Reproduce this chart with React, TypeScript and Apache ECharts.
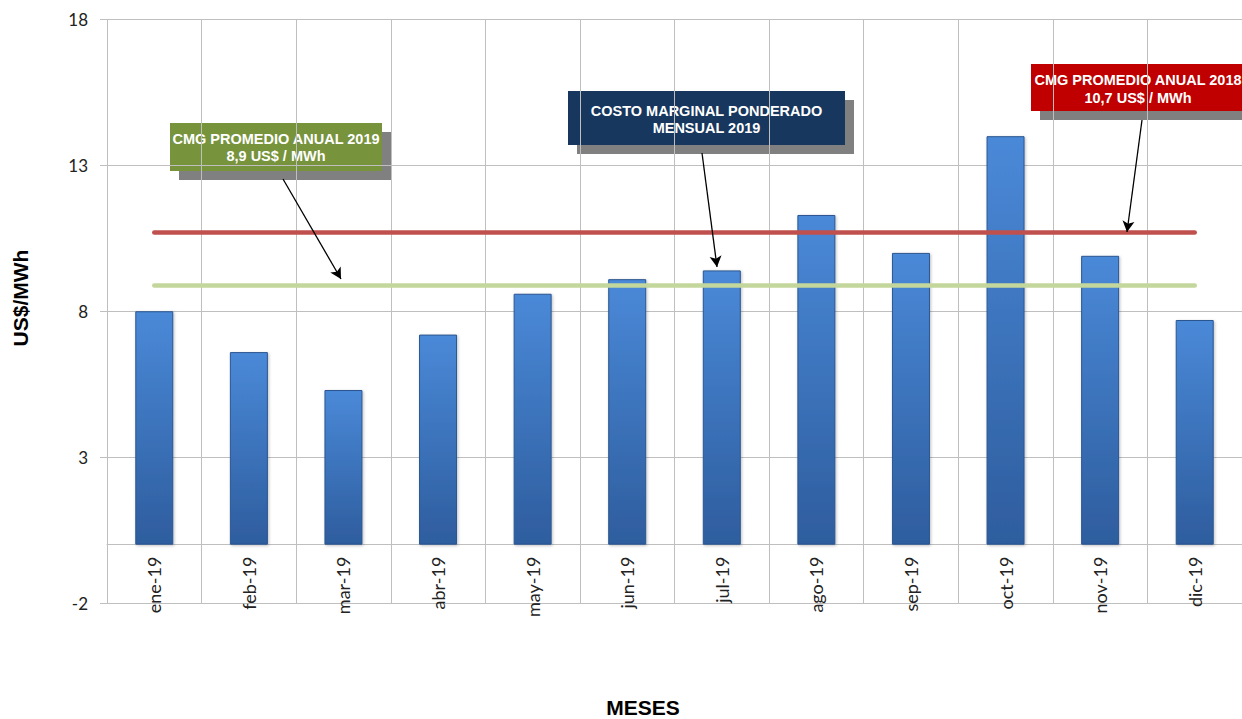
import React, { useEffect, useRef } from "react";
import * as echarts from "echarts";

const months = ["ene-19", "feb-19", "mar-19", "abr-19", "may-19", "jun-19", "jul-19", "ago-19", "sep-19", "oct-19", "nov-19", "dic-19"];
const costs = [8.0, 6.6, 5.3, 7.2, 8.6, 9.1, 9.4, 11.3, 10.0, 14.0, 9.9, 7.7];
const avg2018 = 10.7;
const avg2019 = 8.9;
const yTicks = [-2, 3, 8, 13, 18];

const boxFont = "bold 14.5px 'Liberation Sans', Arial, sans-serif";

function box(x: number, y: number, w: number, h: number, fill: string, lines: string[], lineYs: number[]) {
  const children: any[] = [
    { type: "rect", shape: { x: x + 9, y: y + 9, width: w, height: h }, style: { fill: "#808080" } },
    { type: "rect", shape: { x, y, width: w, height: h }, style: { fill } },
  ];
  lines.forEach((t, i) => {
    children.push({
      type: "text",
      x: x + w / 2,
      y: lineYs[i],
      style: { text: t, font: boxFont, fill: "#ffffff", align: "center", verticalAlign: "middle" },
    });
  });
  return { type: "group", children };
}

export default function App() {
  const ref = useRef<HTMLDivElement>(null);
  useEffect(() => {
    if (!ref.current) return;
    const chart = echarts.init(ref.current, null, { renderer: "svg" });
    const gridColor = "#BFBFBF";
    const gridTop = 19.5;
    const gridHeight = 583.5;
    const yMin = yTicks[0];
    const yMax = yTicks[yTicks.length - 1];
    const zeroOffset = -(gridHeight * (0 - yMin)) / (yMax - yMin);
    chart.setOption({
      animation: false,
      backgroundColor: "#ffffff",
      grid: { left: 107, top: gridTop, width: 1140, height: gridHeight, containLabel: false },
      xAxis: {
        type: "category",
        data: months,
        position: "bottom",
        offset: zeroOffset,
        axisLine: { onZero: false, lineStyle: { color: gridColor, width: 1 } },
        axisTick: { show: false },
        splitLine: { show: true, lineStyle: { color: gridColor, width: 1 } },
        axisLabel: {
          rotate: 90,
          margin: 12,
          color: "#222",
          fontSize: 18,
          fontFamily: "Lato, 'Open Sans', sans-serif",
        },
      },
      yAxis: {
        type: "value",
        min: yMin,
        max: yMax,
        interval: 5,
        axisLine: { show: true, onZero: false, lineStyle: { color: gridColor } },
        axisTick: { show: true, length: 7, lineStyle: { color: gridColor } },
        splitLine: { show: true, lineStyle: { color: gridColor, width: 1 } },
        axisLabel: {
          margin: 19,
          color: "#222",
          fontSize: 17,
          fontFamily: "Lato, 'Open Sans', sans-serif",
        },
      },
      series: [
        {
          type: "bar",
          data: costs,
          barWidth: 38,
          itemStyle: {
            color: new echarts.graphic.LinearGradient(0, 0, 0, 1, [
              { offset: 0, color: "#4A89D8" },
              { offset: 1, color: "#2E5D9E" },
            ]),
            borderColor: "#2B5690",
            borderWidth: 1,
            shadowColor: "rgba(0,0,0,0.25)",
            shadowBlur: 3,
            shadowOffsetX: 1,
            shadowOffsetY: 1,
          },
          markLine: {
            silent: true,
            symbol: ["none", "none"],
            label: { show: false },
            data: [
              [
                { coord: [months[0], avg2018], lineStyle: { color: "#C0504D", width: 4.5, type: "solid", cap: "round" } },
                { coord: [months[months.length - 1], avg2018] },
              ],
              [
                { coord: [months[0], avg2019], lineStyle: { color: "#C3D69B", width: 4.5, type: "solid", cap: "round" } },
                { coord: [months[months.length - 1], avg2019] },
              ],
            ],
          },
        },
        {
          type: "line",
          data: [],
          markLine: {
            silent: true,
            symbol: ["none", "arrow"],
            symbolSize: [9, 11],
            label: { show: false },
            lineStyle: { color: "#000000", width: 1.3, type: "solid" },
            data: [
              [{ x: 283, y: 179 }, { x: 341, y: 279 }],
              [{ x: 702, y: 153 }, { x: 717, y: 267 }],
              [{ x: 1142, y: 120 }, { x: 1127, y: 232 }],
            ],
          },
        },
      ],
      graphic: [
        box(170, 123, 212, 48, "#77933C", ["CMG PROMEDIO ANUAL 2019", "8,9 US$ / MWh"], [139, 156]),
        box(568, 91, 277, 54, "#17375E", ["COSTO MARGINAL PONDERADO", "MENSUAL 2019"], [111, 128]),
        box(1031, 64, 214, 47, "#C00000", ["CMG PROMEDIO ANUAL 2018", "10,7 US$ / MWh"], [80, 98]),
        {
          type: "text",
          x: 20,
          y: 298,
          rotation: Math.PI / 2,
          style: {
            text: "US$/MWh",
            font: "bold 21px 'Liberation Sans', Arial, sans-serif",
            fill: "#000",
            align: "center",
            verticalAlign: "middle",
          },
        },
        {
          type: "text",
          x: 643,
          y: 707,
          style: {
            text: "MESES",
            font: "bold 21px 'Liberation Sans', Arial, sans-serif",
            fill: "#000",
            align: "center",
            verticalAlign: "middle",
          },
        },
      ],
    });
    return () => chart.dispose();
  }, []);
  return <div ref={ref} style={{ width: 1242, height: 719, position: "absolute", left: 0, top: 0 }} />;
}
